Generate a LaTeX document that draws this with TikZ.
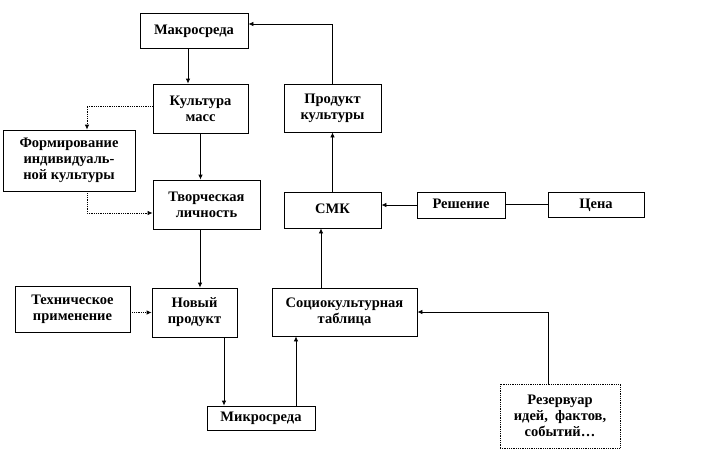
\documentclass[tikz,border=0pt]{standalone}
\usepackage{fontspec}
\setmainfont{Liberation Serif}
\usetikzlibrary{arrows.meta}

\def\lw{.8pt}
\tikzstyle{b}=[rectangle,draw,line width=\lw,inner sep=1pt,align=center,font=\bfseries\fontsize{14.5}{16}\selectfont]
\tikzstyle{s}=[b,text height=10pt,text depth=3pt]
\tikzstyle{d}=[b,densely dotted]
\tikzstyle{a}=[-{Latex[length=5pt,width=4.5pt]},line width=\lw]
\tikzstyle{da}=[a,densely dotted]
\tikzstyle{l}=[-,line width=\lw]

\begin{document}
\begin{tikzpicture}[x=1pt,y=-1pt]
			\useasboundingbox (0,0) rectangle (704,451);
			\node[s,minimum width=108,minimum height=35](mak) at (194,30.5){Макросреда};
			\node[b,minimum width=95,minimum height=49](kul) at (200.5,108.5){Культура\\масс};
			\node[b,minimum width=97,minimum height=48](prod) at (332.5,108){Продукт\\культуры};
			\node[b,minimum width=132,minimum height=61](form) at (69,160.5){Формирование\\индивидуаль-\\ной культуры};
			\node[b,minimum width=107,minimum height=49](tvor) at (206.5,204.5){Творческая\\личность};
			\node[s,minimum width=97,minimum height=36](smk) at (332.5,210){СМК};
			\node[s,minimum width=88,minimum height=26](resh) at (461,205){Решение};
			\node[s,minimum width=96,minimum height=25](cena) at (596,204.5){Цена};
			\node[b,minimum width=115,minimum height=46](tech) at (72.5,309){Техническое\\применение};
			\node[b,minimum width=85,minimum height=49](nov) at (194.5,312.5){Новый\\продукт};
			\node[b,minimum width=145,minimum height=48](soc) at (344.5,312){Социокультурная\\таблица};
			\node[s,minimum width=108,minimum height=24](mik) at (261,418){Микросреда};
			\node[d,minimum width=120,minimum height=64](rez) at (560,416){Резервуар\\идей,~~фактов,\\событий…};

			\draw[a]([xshift=-6pt]mak.south)--([xshift=-6pt]mak.south |- kul.north);
			\draw[a](kul.south)--(kul.south |- tvor.north);
			\draw[da]([yshift=2.5pt]kul.west)-|([xshift=18pt]form.north);
			\draw[da]([xshift=18pt]form.south)|-([yshift=-8.5pt]tvor.west);
			\draw[a]([xshift=-6.5pt]tvor.south)--([xshift=-6.5pt]tvor.south |- nov.north);
			\draw[da](tech.east |- nov.west)--(nov.west);
			\draw[a]([xshift=29.5pt]nov.south)--([xshift=29.5pt]nov.south |- mik.north);
			\draw[a]([xshift=35pt]mik.north)--([xshift=35pt]mik.north |- soc.south);
			\draw[a]([xshift=-23.5pt]soc.north)--([xshift=-23.5pt]soc.north |- smk.south);
			\draw[a](smk)edge(prod);
			\draw[a](prod.north)|-([yshift=6.5pt]mak.east);
			\draw[a](resh.west)--(resh.west -| smk.east);
			\draw[l](cena.west)--(cena.west -| resh.east);
			\draw[a]([xshift=-12pt]rez.north)|-(soc.east);
		\end{tikzpicture}
\end{document}
